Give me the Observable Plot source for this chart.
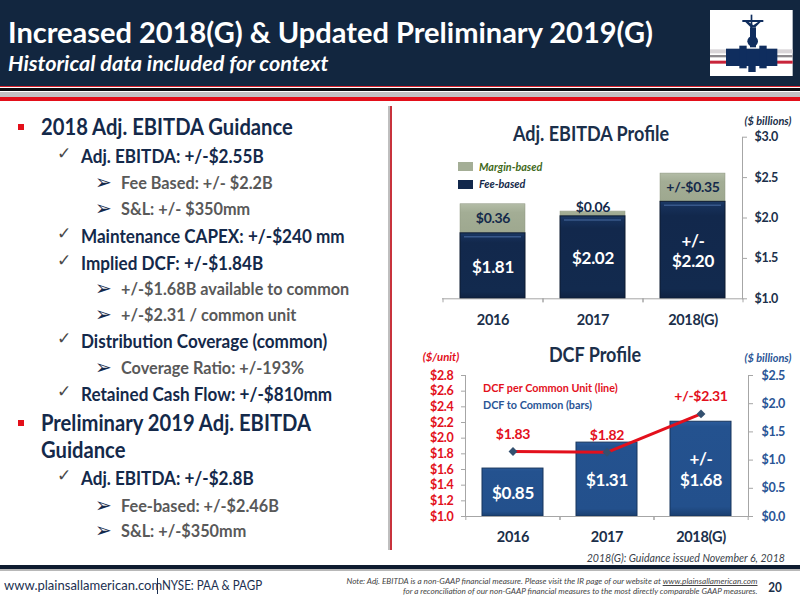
<!DOCTYPE html>
<html><head><meta charset="utf-8">
<script src="https://cdn.jsdelivr.net/npm/d3@7"></script>
<script src="https://cdn.jsdelivr.net/npm/@observablehq/plot@0.6"></script>
<style>
html,body{margin:0;padding:0;background:#fff;width:800px;height:600px;overflow:hidden}
body{font-family:Lato,sans-serif;position:relative}
.t{position:absolute;white-space:nowrap;line-height:1;transform-origin:0 50%;}
.abs{position:absolute}
#c1,#c2{position:absolute}
#c1{left:400px;top:110px}
#c2{left:400px;top:335px}
</style></head><body>
<div id="page"></div>
<div id="c1"></div>
<div id="c2"></div>
<script>
const years = ["2016","2017","2018(G)"];
const feeBased = [1.81,2.02,2.20];
const marginBased = [0.36,0.06,0.35];
const feeLabels = ["$1.81","$2.02","+/-\n$2.20"];
const marginLabels = ["$0.36","$0.06","+/-$0.35"];
const ebitdaTicks = [1,1.5,2,2.5,3];
const dcfCommon = [0.85,1.31,1.68];
const dcfCommonLabels = ["$0.85","$1.31","+/-\n$1.68"];
const dcfPerUnit = [1.83,1.82,2.31];
const dcfPerUnitLabels = ["$1.83","$1.82","+/-$2.31"];
const unitTicks = [1,1.2,1.4,1.6,1.8,2,2.2,2.4,2.6,2.8];
const billionTicks = [0,0.5,1,1.5,2,2.5];
const bullets = [
 [0,127,"2018 Adj. EBITDA Guidance"],
 [1,156,"Adj. EBITDA: +/-$2.55B"],
 [2,183,"Fee Based: +/- $2.2B"],
 [2,209,"S&L: +/- $350mm"],
 [1,236,"Maintenance CAPEX: +/-$240 mm"],
 [1,263,"Implied DCF: +/-$1.84B"],
 [2,289,"+/-$1.68B available to common"],
 [2,315,"+/-$2.31 / common unit"],
 [1,341,"Distribution Coverage (common)"],
 [2,368,"Coverage Ratio: +/-193%"],
 [1,394,"Retained Cash Flow: +/-$810mm"],
 [0,423,"Preliminary 2019 Adj. EBITDA"],
 [3,450,"Guidance"],
 [1,478,"Adj. EBITDA: +/-$2.8B"],
 [2,506,"Fee-based: +/-$2.46B"],
 [2,531,"S&L: +/-$350mm"]
];
const NAVY="#12263f", INK="#14294a", GREY="#a6a6a6", RED="#e3101c", BLUE="#2a5596", GRAY_TXT="#595959";

const page=document.getElementById("page");
function box(l,t,w,h,bg,extra=""){const d=document.createElement("div");d.className="abs";d.style.cssText=`left:${l}px;top:${t}px;width:${w}px;height:${h}px;background:${bg};${extra}`;page.appendChild(d);return d;}
function txt(x,cy,s,size,color,o={}){const d=document.createElement("div");d.className="t";d.textContent=s;
 const sx=o.sx??0.9;const anchor=o.anchor??"l";
 const tx=anchor==="l"?"":(anchor==="c"?"translateX(-50%) ":"translateX(-100%) ");
 d.style.cssText=`${anchor==="l"?"left":"left"}:${x}px;top:${cy-size/2}px;font-size:${size}px;color:${color};font-weight:${o.w??700};font-style:${o.i?"italic":"normal"};transform-origin:${anchor==="l"?"0":anchor==="c"?"50%":"100%"} 50%;transform:${tx}scaleX(${sx});`;
 if(o.font)d.style.fontFamily=o.font;
 page.appendChild(d);return d;}

// header
box(0,0,800,86,NAVY);
box(0,86,800,1,"#d8202c");
box(0,88,800,3,"#0c0c10");
box(0,92,800,5,"#c4c0c2");
box(0,97,800,4,"#e30f1a");
txt(8,31,"Increased 2018(G) & Updated Preliminary 2019(G)",29,"#fff",{sx:1.0});
txt(8,62,"Historical data included for context",21,"#fff",{i:true,sx:1.03});
page.insertAdjacentHTML("beforeend",`<svg class="abs" style="left:700px;top:0" width="100" height="110" viewBox="0 0 300 330" aria-hidden="true">
<rect x="30" y="30" width="248" height="198" fill="#fff"/>
<rect x="30" y="148" width="248" height="12" fill="#d9d5d8"/><rect x="30" y="165" width="248" height="7" fill="#8d8a8e"/><rect x="30" y="182" width="248" height="9" fill="#c8243a"/>
<g fill="#0f2d5e"><rect x="78" y="146" width="154" height="52"/><rect x="118" y="137" width="22" height="68"/><rect x="178" y="137" width="22" height="68"/><rect x="145" y="198" width="22" height="18"/>
<rect x="150" y="82" width="18" height="60"/><circle cx="158" cy="124" r="16"/><rect x="127" y="60" width="63" height="6"/><rect x="152" y="44" width="5" height="40"/><path d="M136 66L152 82L166 82L182 66L174 66L160 76L146 66Z"/></g></svg>`);

// divider
box(388,106,2,444,"#bfbfbf");
box(389.5,106,2.5,444,"#c8323c");

// bullets
bullets.forEach(([lvl,y,s])=>{
 if(lvl===0){box(18,y-3.5,6,6.5,"#e30f1a");txt(41,y,s,22,INK,{sx:.918});}
 else if(lvl===3){txt(41,y,s,22,INK,{sx:.918});}
 else if(lvl===1){txt(57,y-3,"\u2713",17,"#4a4a4a",{font:"DejaVu Sans",w:400,sx:1});txt(81,y,s,18,INK,{sx:.95});}
 else {txt(95,y-1,"\u27A2",20,INK,{font:"DejaVu Sans",w:400,sx:1});txt(121,y,s,16.5,GRAY_TXT,{sx:.985});}
});

// chart headings
txt(591,133,"Adj. EBITDA Profile",20,"#1b2f4a",{anchor:"c"});
txt(768,121,"($ billions)",11.5,"#1b2f4a",{anchor:"c",i:true,sx:.95});
box(458,162,15,9,"#a4ae96");
txt(479,166.5,"Margin-based",12,"#3f6a20",{i:true});
box(458,179.5,15,9,"#12284c");
txt(479,184,"Fee-based",12,INK,{i:true});
txt(595,354,"DCF Profile",20,"#1b2f4a",{anchor:"c"});
txt(441,357,"($/unit)",12,RED,{anchor:"c",i:true,sx:.95});
txt(768,358,"($ billions)",11.5,BLUE,{anchor:"c",i:true,sx:.95});
txt(483,388,"DCF per Common Unit (line)",12,RED);
txt(483,405,"DCF to Common (bars)",12,BLUE);
txt(785,558,"2018(G): Guidance issued November 6, 2018",11.5,"#3a3f4a",{anchor:"r",i:true,w:400,sx:.92});

// footer
box(0,565,800,4,"#0e1c30");
box(0,569,800,2,"#b8b8b8");
txt(4,586,"www.plainsallamerican.com",13.5,"#1c3050",{w:400,sx:.965});
box(157,578,1,16,"#1c3050");
txt(161.5,586,"NYSE: PAA & PAGP",13.5,"#1c3050",{w:400,sx:.86});
const n1=txt(757.5,581.5,"Note: Adj. EBITDA is a non-GAAP financial measure. Please visit the IR page of our website at ",8.2,"#444",{anchor:"r",i:true,w:400,sx:1.0});
n1.innerHTML+='<u>www.plainsallamerican.com</u>';
txt(757.5,591,"for a reconciliation of our non-GAAP financial measures to the most directly comparable GAAP measures.",8.2,"#444",{anchor:"r",i:true,w:400,sx:1.0});
txt(774.5,587,"20",13,"#1b2f4a",{anchor:"c"});

// helpers
const gradient=(id,stops)=>()=>{
 const defs=d3.create("svg:defs");
 const g=defs.append("linearGradient").attr("id",id).attr("x1",0).attr("y1",0).attr("x2",0).attr("y2",1);
 stops.forEach(([o,c])=>g.append("stop").attr("offset",o).attr("stop-color",c));
 return defs.node();
};
const band={type:"band",paddingInner:.35,paddingOuter:.175};
const fmt=d3.format("$.1f");
const baseStyle={fontFamily:"Lato, sans-serif",fontWeight:700,fontSize:"12.5px",letterSpacing:"-0.3px",background:"transparent"};

// --- Adj. EBITDA
const ebitda=years.map((y,i)=>({year:y,base:ebitdaTicks[0],fee:feeBased[i],total:feeBased[i]+marginBased[i],feeLabel:feeLabels[i],marginLabel:marginLabels[i],marginMid:feeBased[i]+marginBased[i]/2,feeMid:(ebitdaTicks[0]+feeBased[i])/2}));
const W1=400,ML1=42,MR1=58,step1=(W1-ML1-MR1)/3;
document.getElementById("c1").append(Plot.plot({
 width:W1,height:220,marginLeft:ML1,marginRight:MR1,marginTop:26.7,marginBottom:31.7,
 style:baseStyle,
 x:{...band,domain:years},
 y:{domain:[1,3]},
 marks:[
  gradient("feeGrad",[[0,"#1c3a66"],[.05,"#16305a"],[.15,"#12284c"],[.9,"#122a4e"],[1,"#0f2140"]]),
  gradient("marginGrad",[[0,"#b3bca6"],[.3,"#a3ad95"],[1,"#9ea88f"]]),
  Plot.barY(ebitda,{x:"year",y1:"fee",y2:"total",fill:"url(#marginGrad)",stroke:"#8e9681",strokeWidth:.5}),
  Plot.barY(ebitda,{x:"year",y1:"base",y2:"fee",fill:"url(#feeGrad)",stroke:"#0c1a30",strokeWidth:1}),
  Plot.tickY(ebitda,{x:"year",y:"fee",dy:3.5,insetLeft:4,insetRight:4,stroke:"#38588a",strokeWidth:1.5}),
  Plot.frame({anchor:"bottom",stroke:GREY}),
  Plot.frame({anchor:"right",stroke:GREY}),
  Plot.axisX({dx:-step1/2,tickSize:4,stroke:GREY,fill:"none",label:null}),
  Plot.axisX({dx:step1/2,tickSize:4,stroke:GREY,fill:"none",label:null}),
  Plot.axisX({tickSize:0,tickPadding:16,fill:"#1b2f4a",label:null,fontSize:14.5}),
  Plot.axisY(ebitdaTicks,{anchor:"right",tickSize:4,tickPadding:8,stroke:GREY,fill:"#1b2f4a",tickFormat:fmt,label:null}),
  Plot.text(ebitda,{x:"year",y:"feeMid",text:"feeLabel",fill:"#fff",fontSize:17,lineHeight:1.2}),
  Plot.text(ebitda,{filter:d=>d.total-d.fee>.1,x:"year",y:"marginMid",text:"marginLabel",fill:"#14294a",fontSize:14}),
  Plot.text(ebitda,{filter:d=>d.total-d.fee<=.1,x:"year",y:"total",dy:-4,text:"marginLabel",fill:"#14294a",fontSize:14})
 ]
}));

// --- DCF : bars read on the right ($ billions) scale, the line on the left ($/unit) scale
const toBillions=d3.scaleLinear([unitTicks[0],unitTicks[unitTicks.length-1]],[billionTicks[0],billionTicks[billionTicks.length-1]]);
const dcf=years.map((y,i)=>({year:y,common:dcfCommon[i],mid:dcfCommon[i]/2,label:dcfCommonLabels[i],unit:toBillions(dcfPerUnit[i]),unitLabel:dcfPerUnitLabels[i]}));
const W2=400,ML2=65,MR2=52,step2=(W2-ML2-MR2)/3;
document.getElementById("c2").append(Plot.plot({
 width:W2,height:215,marginLeft:ML2,marginRight:MR2,marginTop:40,marginBottom:34,
 style:baseStyle,
 x:{...band,domain:years},
 y:{domain:[0,2.5]},
 marks:[
  gradient("dcfGrad",[[0,"#2c5c9c"],[.06,"#24528f"],[.9,"#23508c"],[1,"#1a3f70"]]),
  Plot.barY(dcf,{x:"year",y:"common",fill:"url(#dcfGrad)",stroke:"#17345c",strokeWidth:1}),
  Plot.frame({anchor:"bottom",stroke:GREY}),
  Plot.frame({anchor:"left",stroke:GREY}),
  Plot.frame({anchor:"right",stroke:GREY}),
  Plot.axisX({dx:-step2/2,tickSize:4,stroke:GREY,fill:"none",label:null}),
  Plot.axisX({dx:step2/2,tickSize:4,stroke:GREY,fill:"none",label:null}),
  Plot.axisX({tickSize:0,tickPadding:15,fill:"#1b2f4a",label:null,fontSize:14.5}),
  Plot.axisY(unitTicks.map(t=>toBillions(t)),{anchor:"left",tickSize:4,tickPadding:8,stroke:GREY,fill:RED,tickFormat:v=>fmt(toBillions.invert(v)),label:null}),
  Plot.axisY(billionTicks,{anchor:"right",tickSize:4,tickPadding:9,stroke:GREY,fill:BLUE,tickFormat:fmt,label:null}),
  Plot.line(dcf,{x:"year",y:"unit",stroke:RED,strokeWidth:3}),
  Plot.dot(dcf,{x:"year",y:"unit",symbol:"diamond2",r:4,fill:"#34506f"}),
  Plot.text(dcf,{x:"year",y:"mid",text:"label",fill:"#fff",fontSize:17,lineHeight:1.2}),
  Plot.text(dcf,{x:"year",y:"unit",dy:-17,text:"unitLabel",fill:RED,fontSize:14})
 ]
}));
</script></body></html>
